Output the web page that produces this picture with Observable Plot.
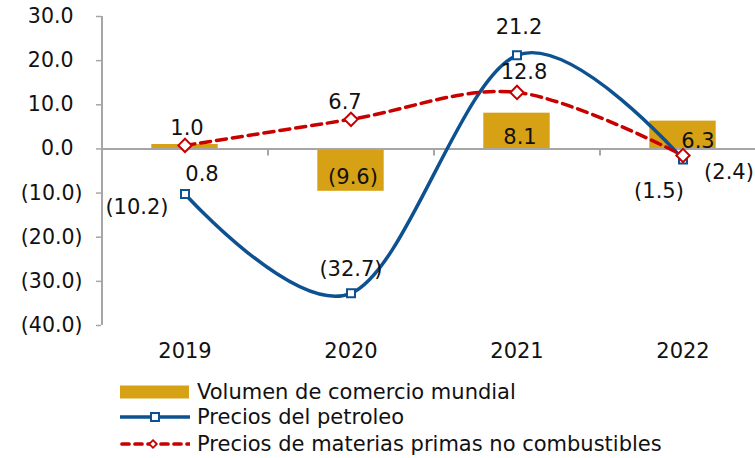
<!DOCTYPE html>
<html><head><meta charset="utf-8">
<script src="https://cdn.jsdelivr.net/npm/d3@7"></script>
<script src="https://cdn.jsdelivr.net/npm/@observablehq/plot@0.6"></script>
<style>
body{margin:0;background:#fff;font-family:"DejaVu Sans",Verdana,sans-serif;}
#wrap{position:relative;width:755px;height:458px;overflow:hidden;}
#chart svg{display:block;}
.row{position:absolute;left:120px;height:26px;display:flex;align-items:center;font-size:21px;color:#111;white-space:nowrap;}
.row svg{margin-right:7px;flex:none;}
</style></head>
<body><div id="wrap"><div id="chart"></div><div id="legend"></div></div>
<script>
const years = ["2019", "2020", "2021", "2022"];
const tradeVolume = [1.0, -9.6, 8.1, 6.3];
const oilPrices = [-10.2, -32.7, 21.2, -2.4];
const nonFuelPrices = [0.8, 6.7, 12.8, -1.5];
const yTicks = [30, 20, 10, 0, -10, -20, -30, -40];
const seriesNames = ["Volumen de comercio mundial", "Precios del petroleo", "Precios de materias primas no combustibles"];

const colors = {trade: "#d6a115", oil: "#0d5190", nonfuel: "#c80000", axis: "#a6a6a6", text: "#111"};
const fmt = v => v < 0 ? `(${Math.abs(v).toFixed(1)})` : v.toFixed(1);

const idx = years.map((_, i) => i);
const trade = idx.map(i => ({i, v: tradeVolume[i]}));
const oil = idx.map(i => ({i, v: oilPrices[i]}));
const nonfuel = idx.map(i => ({i, v: nonFuelPrices[i]}));

// label placement (pixels relative to each point)
const tradeLabelOffsets = [[2, -16], [2, -14], [3, 24], [15, 20]];
const oilLabelOffsets = [[-48, 13], [0, -24], [2, -28], [46, 13]];
const nonfuelLabelOffsets = [[17, 29], [-6, -17], [7, -20], [-24, 36]];

const labels = (data, offsets) => data.map((d, k) => Plot.text([d], {
  x: "i", y: "v", text: p => fmt(p.v), dx: offsets[k][0], dy: offsets[k][1],
  fontSize: 21, fill: colors.text
}));

const chart = Plot.plot({
  width: 755, height: 375,
  marginLeft: 101, marginRight: 0, marginTop: 16, marginBottom: 50,
  x: {domain: [-0.5, 3.5], range: [101.5, 765.5], axis: null},
  y: {domain: [-40, 30], axis: null},
  style: {fontFamily: "DejaVu Sans, Verdana, sans-serif", background: "white"},
  marks: [
    Plot.rectY(trade, {x1: d => d.i - 0.2, x2: d => d.i + 0.2, y1: 0, y2: "v", fill: colors.trade}),
    Plot.ruleY([0], {stroke: colors.axis, strokeWidth: 2}),
    Plot.ruleX([0.5, 1.5, 2.5], {y1: 0, y2: -1.6, stroke: colors.axis, strokeWidth: 2}),
    Plot.ruleX([-0.5], {y1: -40, y2: 30, stroke: colors.axis, strokeWidth: 2}),
    Plot.axisY({ticks: yTicks, tickSize: 5, tickFormat: () => "", label: null, stroke: colors.axis, strokeWidth: 1.5}),
    Plot.text(yTicks.filter(v => v >= 0), {y: d => d, text: fmt, frameAnchor: "left", dx: -28, textAnchor: "end", fontSize: 20.5, fill: colors.text}),
    Plot.text(yTicks.filter(v => v < 0), {y: d => d, text: fmt, frameAnchor: "left", dx: -19, textAnchor: "end", fontSize: 20.5, fill: colors.text}),
    Plot.text(idx, {x: d => d, text: d => years[d], frameAnchor: "bottom", dy: 32, fontSize: 21, fill: colors.text}),
    Plot.line(oil, {x: "i", y: "v", stroke: colors.oil, strokeWidth: 3.5, curve: "cardinal", tension: 0}),
    Plot.line(nonfuel, {x: "i", y: "v", stroke: colors.nonfuel, strokeWidth: 3.5, strokeDasharray: "10,6", curve: "cardinal", tension: 0}),
    Plot.dot(oil, {x: "i", y: "v", symbol: "square", r: 4.5, fill: "white", stroke: colors.oil, strokeWidth: 2}),
    Plot.dot(nonfuel, {x: "i", y: "v", symbol: "diamond2", r: 6, fill: "white", stroke: colors.nonfuel, strokeWidth: 2}),
    ...labels(trade, tradeLabelOffsets),
    ...labels(oil, oilLabelOffsets),
    ...labels(nonfuel, nonfuelLabelOffsets)
  ]
});
document.getElementById("chart").appendChild(chart);

// legend
const legend = document.getElementById("legend");
const swatches = [
  `<svg width="70" height="14"><rect x="0" y="0.5" width="69" height="13" fill="${colors.trade}"/></svg>`,
  `<svg width="70" height="14"><line x1="1" y1="7" x2="69" y2="7" stroke="${colors.oil}" stroke-width="3.7" stroke-linecap="round"/><rect x="31" y="3" width="8" height="8" fill="white" stroke="${colors.oil}" stroke-width="2"/></svg>`,
  `<svg width="70" height="14"><line x1="2" y1="7" x2="69" y2="7" stroke="${colors.nonfuel}" stroke-width="3.7" stroke-dasharray="7,6" stroke-linecap="round"/><path d="M33,3.2 L36.8,7 L33,10.8 L29.2,7 Z" fill="white" stroke="${colors.nonfuel}" stroke-width="1.8"/></svg>`
];
const rowCenters = [391.5, 417, 443.5];
seriesNames.forEach((name, k) => {
  const row = document.createElement("div");
  row.className = "row";
  row.style.top = (rowCenters[k] - 13) + "px";
  row.innerHTML = swatches[k] + `<span>${name}</span>`;
  legend.appendChild(row);
});
</script>
</body></html>
